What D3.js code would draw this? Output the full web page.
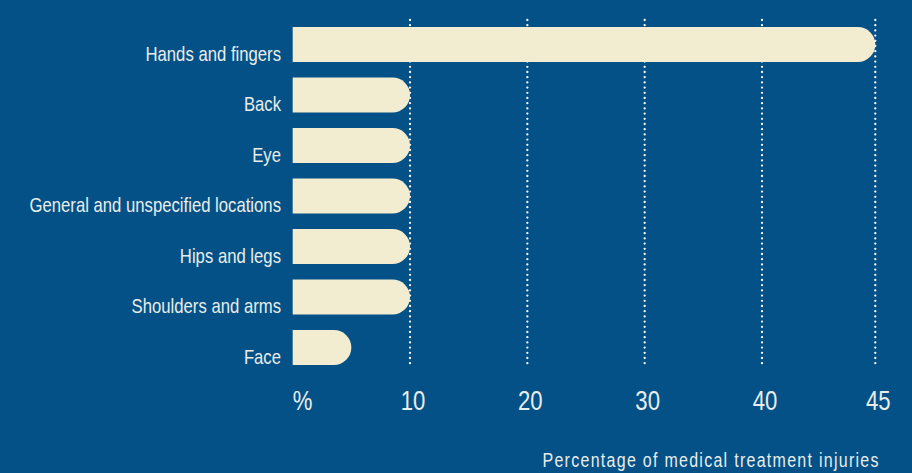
<!DOCTYPE html>
<html>
<head>
<meta charset="utf-8">
<script src="https://d3js.org/d3.v7.min.js"></script>
<style>
  html, body { margin: 0; padding: 0; background: #045187; }
  svg text { font-family: "Liberation Sans", Arial, sans-serif; fill: #e9ede9; }
</style>
</head>
<body>
<svg width="912" height="473"></svg>
<script>
// body locations of medical treatment injuries, share in %
var categories = ["Hands and fingers", "Back", "Eye", "General and unspecified locations",
                  "Hips and legs", "Shoulders and arms", "Face"];
var values = [45, 10, 10, 10, 10, 10, 5];
var tickValues = [10, 20, 30, 40, 45];
var tickLabels = ["10", "20", "30", "40", "45"];
var axisTitle = "Percentage of medical treatment injuries";

var svg = d3.select("svg");
var narrow = 0.82; // no narrow font installed, squeeze the regular one

function place(px, py, k) {
  return "translate(" + px + "," + py + ") scale(" + (k || narrow) + ",1)";
}

// the printed axis gives the 40-45 stretch the same room as a full ten, so keep it piecewise
var x = d3.scaleLinear().domain([0, 40, 45]).range([292.7, 762, 875.3]);
var y = d3.scaleBand().domain(categories).range([19.25, 372.75])
    .paddingInner(0.307).paddingOuter(0.1535);

// dotted gridlines
svg.append("g").selectAll("line")
  .data(tickValues)
  .enter().append("line")
    .attr("x1", function(d) { return x(d); })
    .attr("x2", function(d) { return x(d); })
    .attr("y1", 20)
    .attr("y2", 366)
    .attr("stroke", "#ffffff")
    .attr("stroke-width", 2.3)
    .attr("stroke-linecap", "round")
    .attr("stroke-dasharray", "0,5.2");

// bars, square at the left, rounded at the right
var h = y.bandwidth(), r = h / 2;
svg.append("g").selectAll("path")
  .data(values)
  .enter().append("path")
    .attr("fill", "#f2ecd0")
    .attr("d", function(d, i) {
      var x0 = x(0), x1 = x(d), y0 = y(categories[i]);
      return "M" + x0 + "," + y0 + "H" + (x1 - r) +
             "A" + r + "," + r + " 0 0 1 " + (x1 - r) + "," + (y0 + h) +
             "H" + x0 + "Z";
    });

// category labels sit on the bottom edge of their bar
svg.append("g").selectAll("text")
  .data(categories)
  .enter().append("text")
    .attr("transform", function(d) { return place(281, y(d) + h - 1, 0.795); })
    .attr("text-anchor", "end")
    .style("font-size", "21px")
    .text(function(d) { return d; });

// tick labels
var ticks = svg.append("g");
ticks.append("text")
    .attr("transform", place(x(0), 409.5))
    .style("font-size", "27px")
    .text("%");
ticks.selectAll(".tk")
  .data(tickValues)
  .enter().append("text")
    .attr("class", "tk")
    .attr("transform", function(d) { return place(x(d) + 3, 409.5); })
    .attr("text-anchor", "middle")
    .style("font-size", "27px")
    .text(function(d, i) { return tickLabels[i]; });

svg.append("text")
    .attr("transform", place(878.5, 466.5))
    .attr("text-anchor", "end")
    .attr("textLength", 336 / narrow)
    .attr("lengthAdjust", "spacing")
    .style("font-size", "19.5px")
    .text(axisTitle);
</script>
</body>
</html>
